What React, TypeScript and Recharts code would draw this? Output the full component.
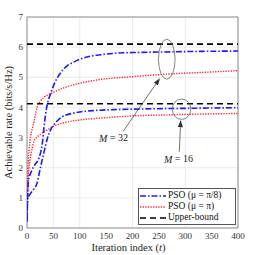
import React from "react";
import {
  ComposedChart,
  Line,
  XAxis,
  YAxis,
  CartesianGrid,
  Legend,
  ReferenceLine,
  ReferenceDot,
  ReferenceArea,
  Label,
} from "recharts";

// iteration index / rate pairs
const psoEighthM32T = [0, 1, 2, 4, 6, 10, 15, 21, 25, 29, 32, 35, 39, 45, 52, 58, 65, 76, 88, 100, 120, 140, 170, 200, 260, 330, 400];
const psoEighthM32Y = [0.2, 0.9, 1.4, 1.7, 1.78, 1.95, 2.1, 2.25, 2.45, 2.8, 3.3, 3.75, 4.14, 4.47, 4.8, 5.0, 5.18, 5.38, 5.5, 5.6, 5.7, 5.75, 5.8, 5.82, 5.84, 5.86, 5.87];

const psoEighthM16T = [0, 1, 4, 8, 14, 19, 23, 28, 32, 36, 40, 46, 52, 60, 70, 85, 100, 130, 170, 220, 300, 400];
const psoEighthM16Y = [0.3, 1.0, 1.08, 1.18, 1.32, 1.48, 1.8, 2.2, 2.5, 2.8, 3.05, 3.3, 3.45, 3.6, 3.72, 3.8, 3.85, 3.9, 3.93, 3.95, 3.97, 3.99];

const psoPiM32T = [0, 1, 2, 4, 7, 10, 13, 17, 20, 25, 32, 40, 50, 70, 100, 140, 200, 260, 330, 400];
const psoPiM32Y = [0.4, 1.4, 2.1, 2.6, 3.05, 3.3, 3.5, 3.85, 4.05, 4.2, 4.34, 4.42, 4.5, 4.65, 4.8, 4.93, 5.02, 5.1, 5.16, 5.22];

const psoPiM16T = [0, 1, 2, 4, 7, 10, 13, 18, 25, 31, 38, 50, 60, 80, 108, 150, 200, 260, 330, 400];
const psoPiM16Y = [0.25, 0.9, 1.5, 2.0, 2.4, 2.65, 2.87, 3.0, 3.1, 3.18, 3.25, 3.37, 3.44, 3.53, 3.6, 3.66, 3.72, 3.75, 3.78, 3.8];

const boundT = [0, 400];
const boundM32 = [6.1, 6.1];
const boundM16 = [4.12, 4.12];

const xTicks = [0, 50, 100, 150, 200, 250, 300, 350, 400];
const yTicks = [0, 1, 2, 3, 4, 5, 6, 7];

const legendLabels = ["PSO (μ = π/8)", "PSO (μ = π)", "Upper-bound"];

const toPoints = (t: number[], y: number[]) => t.map((x, i) => ({ t: x, y: y[i] }));

const FONT = "'Liberation Serif', serif";
const BLUE = "#1a1aff";
const RED = "#ff2020";

const blueDash = "6 2 1.5 2";
const redDash = "1.3 1.3";
const blackDash = "6 4";

const Arrow = (props: any) => {
  const { x1, y1, x2, y2 } = props;
  const ang = Math.atan2(y2 - y1, x2 - x1);
  const len = 7;
  const w = 2.6;
  const bx = x2 - len * Math.cos(ang);
  const by = y2 - len * Math.sin(ang);
  const px = -Math.sin(ang) * w;
  const py = Math.cos(ang) * w;
  return (
    <g>
      <line x1={x1} y1={y1} x2={bx} y2={by} stroke="#333" strokeWidth={0.7} />
      <polygon points={`${x2},${y2} ${bx + px},${by + py} ${bx - px},${by - py}`} fill="#333" />
    </g>
  );
};

const ellipseShape = (rx: number, ry: number) => (p: any) =>
  <ellipse cx={p.cx} cy={p.cy} rx={rx} ry={ry} fill="none" stroke="#666" strokeWidth={0.8} />;

const textShape = (n: string) => (p: any) => (
  <text x={p.cx} y={p.cy} textAnchor="middle" dominantBaseline="central" fontFamily={FONT} fontSize={10} fill="#222">
    <tspan fontStyle="italic">M</tspan> = {n}
  </text>
);

const xLabel = (p: any) => {
  const vb = p.viewBox;
  return (
    <text x={vb.x + vb.width / 2 - 4} y={251} textAnchor="middle" fontFamily={FONT} fontSize={10.5} fill="#222">
      Iteration index (<tspan fontStyle="italic">t</tspan>)
    </text>
  );
};

const renderLegend = () => {
  const styles = [
    { color: BLUE, dash: blueDash, w: 1.6 },
    { color: RED, dash: redDash, w: 1.4 },
    { color: "#000", dash: blackDash, w: 1.6 },
  ];
  return (
    <div
      style={{
        border: "1px solid #555",
        background: "#fff",
        width: 98,
        boxSizing: "border-box",
        padding: "1px 0",
        fontFamily: FONT,
        fontSize: 9.5,
        lineHeight: "11px",
        color: "#111",
      }}
    >
      {legendLabels.map((lab, i) => (
        <div key={lab} style={{ display: "flex", alignItems: "center", height: 11 }}>
          <svg width={28} height={8} style={{ marginRight: 1 }}>
            <line x1={1} y1={4} x2={27} y2={4} stroke={styles[i].color} strokeWidth={styles[i].w} strokeDasharray={styles[i].dash} />
          </svg>
          <span>{lab}</span>
        </div>
      ))}
    </div>
  );
};

export default function App() {
  return (
    <div style={{ position: "absolute", left: 0, top: 0, background: "#fff" }}>
      <ComposedChart width={255} height={255} margin={{ top: 17, right: 17, bottom: 0, left: 0 }}>
        <CartesianGrid stroke="#e6e6e6" strokeWidth={0.8} />
        <XAxis
          type="number"
          dataKey="t"
          domain={[0, 400]}
          ticks={xTicks}
          height={27}
          tickSize={0}
          tickMargin={5}
          axisLine={false}
          tick={{ fontSize: 9, fontFamily: FONT, fill: "#333" }}
          allowDataOverflow
        >
          <Label content={xLabel} />
        </XAxis>
        <YAxis
          type="number"
          domain={[0, 7]}
          ticks={yTicks}
          width={27}
          tickSize={0}
          tickMargin={4}
          axisLine={false}
          tick={{ fontSize: 9, fontFamily: FONT, fill: "#333" }}
          allowDataOverflow
        >
          <Label
            position="center"
            angle={-90}
            dx={-5}
            style={{ fontSize: 10.5, fontFamily: FONT, fill: "#222" }}
            value="Achievable rate (bits/s/Hz)"
          />
        </YAxis>
        <ReferenceArea x1={0} x2={400} y1={0} y2={7} fill="none" stroke="#777" strokeWidth={0.8} />

        <Line data={toPoints(boundT, boundM32)} dataKey="y" stroke="#000" strokeWidth={1.6} strokeDasharray={blackDash} dot={false} isAnimationActive={false} legendType="none" />
        <Line data={toPoints(boundT, boundM16)} dataKey="y" stroke="#000" strokeWidth={1.6} strokeDasharray={blackDash} dot={false} isAnimationActive={false} legendType="none" />
        <Line type="monotone" data={toPoints(psoPiM32T, psoPiM32Y)} dataKey="y" stroke={RED} strokeWidth={1.4} strokeDasharray={redDash} dot={false} isAnimationActive={false} />
        <Line type="monotone" data={toPoints(psoPiM16T, psoPiM16Y)} dataKey="y" stroke={RED} strokeWidth={1.4} strokeDasharray={redDash} dot={false} isAnimationActive={false} />
        <Line type="monotone" data={toPoints(psoEighthM32T, psoEighthM32Y)} dataKey="y" stroke={BLUE} strokeWidth={1.6} strokeDasharray={blueDash} dot={false} isAnimationActive={false} />
        <Line type="monotone" data={toPoints(psoEighthM16T, psoEighthM16Y)} dataKey="y" stroke={BLUE} strokeWidth={1.6} strokeDasharray={blueDash} dot={false} isAnimationActive={false} />

        <ReferenceDot x={265} y={5.6} r={1} shape={ellipseShape(8.3, 20)} />
        <ReferenceDot x={293} y={3.94} r={1} shape={ellipseShape(9.2, 10.2)} />
        <ReferenceLine segment={[{ x: 182, y: 3.2 }, { x: 252, y: 4.97 }]} shape={Arrow} />
        <ReferenceLine segment={[{ x: 288.7, y: 2.53 }, { x: 291.4, y: 3.58 }]} shape={Arrow} />
        <ReferenceDot x={164} y={2.99} r={1} shape={textShape("32")} />
        <ReferenceDot x={287} y={2.29} r={1} shape={textShape("16")} />

        <Legend
          layout="vertical"
          align="center"
          verticalAlign="middle"
          content={renderLegend}
          wrapperStyle={{ left: 138, top: 188, width: 98 }}
        />
      </ComposedChart>
    </div>
  );
}
